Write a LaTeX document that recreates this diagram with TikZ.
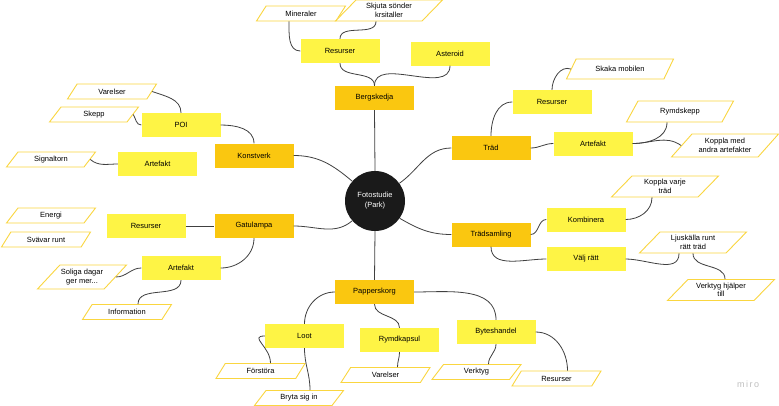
\documentclass[tikz,border=0pt]{standalone}
\usepackage{fontspec}
\setmainfont{Liberation Sans}
\usepackage{tikz}
\usetikzlibrary{positioning,shapes.geometric}
\definecolor{maincolor}{RGB}{250,199,16}
\definecolor{subcolor}{RGB}{254,244,69}
\definecolor{leafcolor}{RGB}{250,214,64}
\definecolor{linkcolor}{RGB}{64,64,64}
\definecolor{hubcolor}{RGB}{26,26,26}
\tikzset{
  mind hub/.style={
    circle,
    fill=hubcolor,
    text=white,
    minimum size=60pt,
    inner sep=1pt,
    align=center,
    font=\fontsize{7.5}{10}\selectfont
  },
  mind main/.style={
    rectangle,
    fill=maincolor,
    minimum width=79pt,
    minimum height=24pt,
    inner sep=1pt,
    font=\fontsize{7.5}{9}\selectfont
  },
  mind sub/.style={
    mind main,
    fill=subcolor
  },
  mind leaf/.style={
    trapezium,
    trapezium left angle=38,
    trapezium right angle=142,
    trapezium stretches body,
    draw=leafcolor,
    fill=white,
    line width=0.9pt,
    minimum width=89pt,
    minimum height=15pt,
    inner sep=1pt,
    align=center,
    font=\fontsize{7.5}{8.5}\selectfont
  },
  mind leaf wide/.style={
    mind leaf,
    minimum width=107pt,
    minimum height=21pt
  },
  link/.style={
    draw=linkcolor,
    line width=0.8pt
  }
}

\begin{document}
\begin{tikzpicture}[x=1pt, y=1pt]

  \fill[white] (0,0) rectangle (779,-405);
  \useasboundingbox (0,0) rectangle (779,-405);

  % Center
  \node[mind hub] (foto) at (375,-201) {Fotostudie\\(Park)};

  % Bergskedja
  \node[mind main] (berg) at (374.5,-98) {Bergskedja};
  \node[mind sub] (bergres) at (340,-51) {Resurser};
  \node[mind sub] (asteroid) at (450,-53.5) {Asteroid};
  \node[mind leaf] (mineraler) at (301,-13.5) {Mineraler};
  \node[mind leaf wide] (skjuta) at (389,-10.5) {Skjuta sönder\\krsitaller};

  % Träd
  \node[mind main] (trad) at (491,-148) {Träd};
  \node[mind sub] (tradres) at (552,-102) {Resurser};
  \node[mind leaf wide, minimum height=20pt] (skaka) at (620,-69) {Skaka mobilen};
  \node[mind sub] (tradart) at (593,-143.5) {Artefakt};
  \node[mind leaf wide] (rymdskepp) at (680,-111.5) {Rymdskepp};
  \node[mind leaf wide, minimum height=23pt] (koppla) at (725,-145.5) {Koppla med\\andra artefakter};

  % Konstverk
  \node[mind main] (konstverk) at (254,-155.5) {Konstverk};
  \node[mind sub] (poi) at (181,-125) {POI};
  \node[mind leaf] (varelserA) at (112,-91.5) {Varelser};
  \node[mind leaf] (skepp) at (94,-114.5) {Skepp};
  \node[mind sub] (konstart) at (157.5,-164) {Artefakt};
  \node[mind leaf] (signaltorn) at (51,-159.5) {Signaltorn};

  % Gatulampa
  \node[mind main] (gata) at (254,-226) {Gatulampa};
  \node[mind sub] (gatares) at (146,-226) {Resurser};
  \node[mind leaf] (energi) at (51,-215.5) {Energi};
  \node[mind leaf] (svavar) at (46,-239.5) {Svävar runt};
  \node[mind sub] (gataart) at (181,-268) {Artefakt};
  \node[mind leaf, minimum height=24pt] (soliga) at (82,-277) {Soliga dagar\\ger mer...};
  \node[mind leaf] (information) at (127,-312) {Information};

  % Trädsamling
  \node[mind main] (tradsaml) at (491,-234.5) {Trädsamling};
  \node[mind sub] (kombinera) at (586,-219.5) {Kombinera};
  \node[mind leaf wide] (kopplavarje) at (665,-186.5) {Koppla varje\\träd};
  \node[mind sub] (valj) at (586,-259) {Välj rätt};
  \node[mind leaf wide] (ljuskalla) at (693,-242.5) {Ljuskälla runt\\rätt träd};
  \node[mind leaf wide] (verktygtill) at (721,-290) {Verktyg hjälper\\till};

  % Papperskorg
  \node[mind main] (papper) at (374.5,-292) {Papperskorg};
  \node[mind sub] (loot) at (304.5,-336) {Loot};
  \node[mind sub] (rymdkapsul) at (399.5,-340) {Rymdkapsul};
  \node[mind sub] (bytes) at (496,-332) {Byteshandel};
  \node[mind leaf] (forstora) at (260.5,-371) {Förstöra};
  \node[mind leaf] (bryta) at (299,-398) {Bryta sig in};
  \node[mind leaf] (varelserB) at (385.5,-375) {Varelser};
  \node[mind leaf] (verktyg) at (476.5,-372) {Verktyg};
  \node[mind leaf] (bytesres) at (556.5,-378.5) {Resurser};

  \node[text=black!25, font=\fontsize{9}{9}\selectfont] (miro) at (748,-384) {m\,i\,r\,o};

  % From Bergskedja
  \draw[link] (berg.south) -- (foto.north);
  \draw[link] (bergres.south) to[out=-90, in=90] (berg.north);
  \draw[link] (asteroid.south) to[out=-90, in=90] (berg.north);
  \draw[link] ([xshift=-12pt]mineraler.south) to[out=-90, in=180] (bergres.west);
  \draw[link] ([xshift=-13pt]skjuta.south) to[out=-90, in=90] (bergres.north);

  % From Träd
  \draw[link] (foto.36) to[out=35, in=180] (trad.west);
  \draw[link] (trad.north) to[out=90, in=180] (tradres.west);
  \draw[link] (tradres.north) to[out=90, in=160] (skaka.west);
  \draw[link] (trad.east) to[out=0, in=180] (tradart.west);
  \draw[link] (tradart.east) to[out=0, in=-90] ([xshift=-13pt]rymdskepp.south);
  \draw[link] (tradart.east) to[out=0, in=145] (koppla.west);

  % From Konstverk
  \draw[link] (foto.139) to[out=140, in=0] (konstverk.east);
  \draw[link] (konstverk.north) to[out=90, in=0] (poi.east);
  \draw[link] (varelserA.east) to[out=-20, in=90] (poi.north);
  \draw[link] (skepp.east) to[out=-60, in=180] (poi.west);
  \draw[link] (signaltorn.east) to[out=-40, in=180] (konstart.west);

  % From Gatulampa
  \draw[link] (foto.221) to[out=220, in=0] (gata.east);
  \draw[link] (gatares.east) -- (gata.west);
  \draw[link] (gata.south) to[out=-90, in=0] (gataart.east);
  \draw[link] (gataart.west) to[out=180, in=0] (soliga.east);
  \draw[link] (gataart.south) to[out=-90, in=90] ([xshift=11pt]information.north);

  % From Trädsamling
  \draw[link] (foto.-35) to[out=-30, in=180] (tradsaml.west);
  \draw[link] (tradsaml.east) to[out=0, in=180] (kombinera.west);
  \draw[link] (kombinera.east) to[out=0, in=-90] ([xshift=-13pt]kopplavarje.south);
  \draw[link] (tradsaml.south) to[out=-90, in=180] (valj.west);
  \draw[link] (valj.east) to[out=0, in=-90] ([xshift=-14pt]ljuskalla.south);
  \draw[link] (ljuskalla.south) to[out=-90, in=90] ([xshift=4pt]verktygtill.north);

  % From Papperskorg
  \draw[link] (foto.south) -- (papper.north);
  \draw[link] (papper.west) to[out=180, in=90] (loot.north);
  \draw[link] (papper.south) to[out=-90, in=90] (rymdkapsul.north);
  \draw[link] (papper.east) to[out=0, in=90] (bytes.north);
  \draw[link] (loot.west) to[out=180, in=90, looseness=1.5] ([xshift=10pt]forstora.north);
  \draw[link] (loot.south) to[out=-90, in=90] ([xshift=11pt]bryta.north);
  \draw[link] (rymdkapsul.south) to[out=-90, in=90] ([xshift=12pt]varelserB.north);
  \draw[link] (bytes.south) to[out=-90, in=90] ([xshift=12pt]verktyg.north);
  \draw[link] (bytes.east) to[out=0, in=90] ([xshift=11pt]bytesres.north);

\end{tikzpicture}
\end{document}
